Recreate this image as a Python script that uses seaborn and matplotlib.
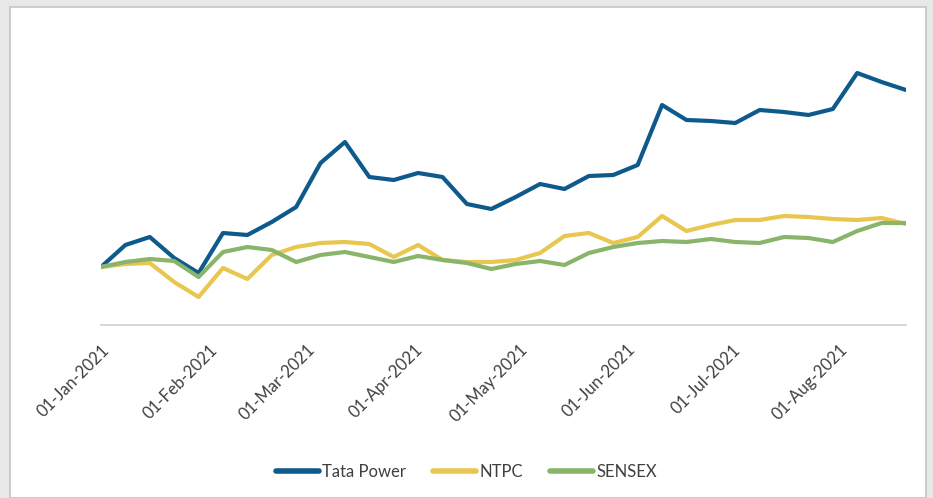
import pandas as pd
import matplotlib.pyplot as plt
import matplotlib.dates as mdates
import matplotlib.patches as mpatches
import seaborn as sns

# Weekly closing values, rebased to 100 on 01-Jan-2021
start_date = '2021-01-01'
n_weeks = 34
tata_power = [100, 108.8, 112, 103.6, 97.6, 113.6, 112.8, 118, 124, 141.6, 150, 136,
              134.8, 137.6, 136, 125.2, 123.2, 128, 133.2, 131.2, 136.4, 136.8, 140.8,
              164.8, 158.8, 158.4, 157.6, 162.8, 162, 160.8, 163.2, 177.6, 174, 170.8]
ntpc = [100, 101.2, 101.6, 94, 88, 99.6, 95.2, 104.8, 108, 109.6, 110, 109.2,
        104, 108.8, 102.8, 102, 102, 102.8, 105.6, 112.4, 113.6, 109.6, 112,
        120.4, 114.4, 116.8, 118.8, 118.8, 120.4, 120, 119.2, 118.8, 119.6, 117.2]
sensex = [100, 102, 103.2, 102.4, 96, 106, 108, 106.8, 102, 104.8, 106, 104,
          102, 104.4, 102.8, 101.6, 99.2, 101.2, 102.4, 100.8, 105.6, 108, 109.6,
          110.4, 110, 111.2, 110, 109.6, 112, 111.6, 110, 114.4, 117.6, 117.6]
series_names = ['Tata Power', 'NTPC', 'SENSEX']
colors = ['#0E5A8C', '#E8C64F', '#88B56A']

dates = pd.date_range(start_date, periods=n_weeks, freq='7D')
df = pd.DataFrame({'Date': dates, 'Tata Power': tata_power, 'NTPC': ntpc, 'SENSEX': sensex})
long_df = df.melt(id_vars='Date', var_name='Series', value_name='Value')

sns.set_style('white')
plt.rcParams['font.family'] = ['Lato', 'DejaVu Sans']

fig = plt.figure(figsize=(9.33, 4.98), dpi=100, facecolor='#E8E8E8')
W, H = 933, 498
# white chart area with thin grey frame
fig.patches.append(mpatches.Rectangle((10 / W, 0), 916 / W, (H - 7) / H, transform=fig.transFigure,
                                      facecolor='white', edgecolor='#C6C6C6', lw=1.2, zorder=-10))

ax = fig.add_axes([101 / W, (H - 325) / H, (906 - 101) / W, (325 - 30) / H])
ax.set_facecolor('none')
sns.lineplot(data=long_df, x='Date', y='Value', hue='Series', hue_order=series_names,
             palette=colors, linewidth=3, ax=ax, legend=False)

ax.set_xlim(dates[0], dates[-1])
ax.set_ylim(76.8, 194.8)
ax.set_yticks([])
ax.set_xlabel('')
ax.set_ylabel('')
for s in ['top', 'right', 'left']:
    ax.spines[s].set_visible(False)
ax.spines['bottom'].set_color('#D0D0D0')
ax.spines['bottom'].set_linewidth(1.2)

ax.xaxis.set_major_locator(mdates.MonthLocator())
ax.xaxis.set_major_formatter(mdates.DateFormatter('%d-%b-%Y'))
ax.tick_params(axis='x', length=0, pad=12, labelsize=12, labelcolor='#404040')
plt.setp(ax.get_xticklabels(), rotation=45, ha='right', rotation_mode='anchor')

handles = [plt.Line2D([], [], color=c, lw=4) for c in colors]
fig.legend(handles, series_names, loc='center', bbox_to_anchor=(0.5, (H - 472) / H), ncol=3,
           frameon=False, fontsize=12, handlelength=2.6, handletextpad=0.2, columnspacing=1.6,
           labelcolor='#404040')

fig.savefig('out.png', dpi=100, facecolor=fig.get_facecolor())
